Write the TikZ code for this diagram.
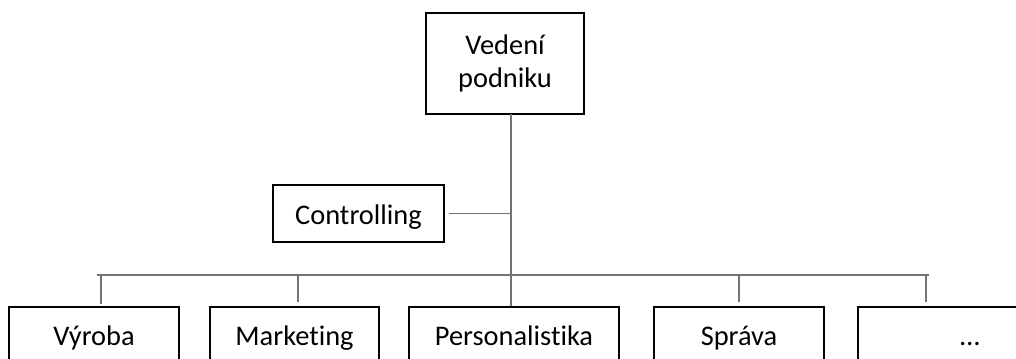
\documentclass[tikz,border=0pt]{standalone}
\usepackage{fontspec}
\setmainfont{Carlito}[Ligatures=NoCommon]
\begin{document}
\begin{tikzpicture}[x=0.75pt,y=-0.75pt,
  box/.style={draw=black, line width=1.5pt, inner sep=0pt, font=\fontsize{21.3}{24.75}\selectfont},
  lowbox/.style={box, minimum height=47pt, text height=10pt, text depth=0pt},
  conn/.style={draw=gray!90!black, line width=0.8pt}]
\useasboundingbox (0,0) rectangle (1016,358);
\clip (0,0) rectangle (1016,358);
% boxes
\node[box, minimum width=118.5pt, minimum height=75.75pt, align=center] (top) at (505,63.5) {Vedení\\podniku};
\node[box, minimum width=128.25pt, minimum height=42.75pt, text height=17pt, text depth=0pt] (ctrl) at (358.5,213.5) {Controlling};
\node[lowbox, minimum width=127.5pt] (vyroba) at (94,338.5) {Výroba};
\node[lowbox, minimum width=126.75pt] (mkt) at (294.5,338.5) {Marketing};
\node[lowbox, minimum width=157.5pt] (pers) at (514,338.5) {Personalistika};
\node[lowbox, minimum width=127.5pt] (sprava) at (739,338.5) {Správa};
\node[lowbox, minimum width=168pt] (more) at (970,338.5) {…};
% coordinates
\coordinate (trunk) at (511,114);
\coordinate (busL) at (97,275);
\coordinate (busR) at (929,275);
\coordinate (s1) at (101,275);
\coordinate (s2) at (298,275);
\coordinate (s4) at (739,275);
\coordinate (s5) at (926,275);
% connectors
\draw[conn] (trunk) -- (trunk |- pers.north);
\draw[conn] ([xshift=3pt]ctrl.east) -- (ctrl.east -| trunk);
\draw[conn] (busL) -- (busR);
\draw[conn] (s1) -- ([yshift=1.5pt]s1 |- vyroba.north);
\draw[conn] (s2) -- ([yshift=3pt]s2 |- mkt.north);
\draw[conn] (s4) -- ([yshift=3pt]s4 |- sprava.north);
\draw[conn] (s5) -- ([yshift=3pt]s5 |- more.north);
\end{tikzpicture}
\end{document}
